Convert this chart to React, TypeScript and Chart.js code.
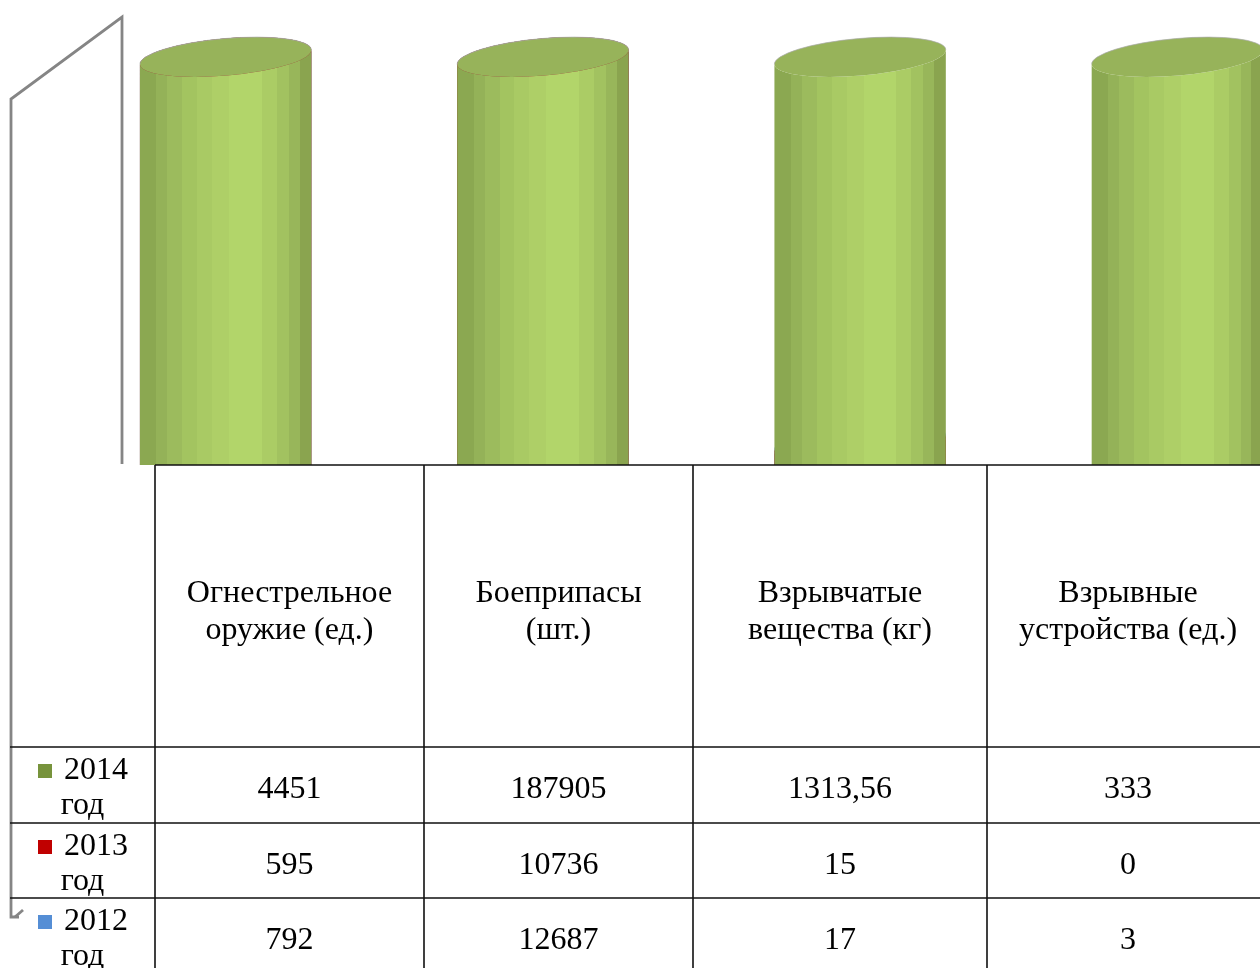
import React, { useEffect, useRef } from "react";
import { Chart, registerables } from "chart.js";

Chart.register(...registerables);

// ---- Data ----
const categories: string[][] = [
  ["Огнестрельное", "оружие (ед.)"],
  ["Боеприпасы", "(шт.)"],
  ["Взрывчатые", "вещества (кг)"],
  ["Взрывные", "устройства (ед.)"],
];
const seriesYears = ["2014", "2013", "2012"];
const seriesSuffix = "год";
const values2014 = [4451, 187905, 1313.56, 333];
const values2013 = [595, 10736, 15, 0];
const values2012 = [792, 12687, 17, 3];
const seriesColors = ["#77933c", "#c00000", "#558ed5"];
const yAxisMax = 300; // axis cap: the front cylinders are cut off at the top of the plot

// ---- Styles ----
const FONT = "32px 'Liberation Serif', 'Times New Roman', serif";
const greenStripes: [number, number, string][] = [
  [0, 0.098, "#8ba851"],
  [0.098, 0.162, "#94b258"],
  [0.162, 0.249, "#9cbb5d"],
  [0.249, 0.335, "#a3c460"],
  [0.335, 0.422, "#a9ca64"],
  [0.422, 0.52, "#aecf67"],
  [0.52, 0.711, "#b2d56a"],
  [0.711, 0.798, "#abcc65"],
  [0.798, 0.867, "#a2c260"],
  [0.867, 0.93, "#98b65a"],
  [0.93, 1, "#8aa44f"],
];
const redStripes: [number, number, string][] = [
  [0, 0.3, "#a00000"],
  [0.3, 0.7, "#d02020"],
  [0.7, 1, "#a00000"],
];
const blueStripes: [number, number, string][] = [
  [0, 0.3, "#4a7dbd"],
  [0.3, 0.7, "#6a9fe0"],
  [0.7, 1, "#4a7dbd"],
];

function drawCylinder(
  ctx: CanvasRenderingContext2D,
  cx: number,
  w: number,
  top: number,
  bottom: number,
  stripes: [number, number, string][],
  topColor: string,
  outline: boolean
) {
  const rx = w / 2;
  const ry = 18.5;
  const rot = -0.087;
  const lx = cx - rx * Math.cos(rot);
  const ly = top - rx * Math.sin(rot);
  const rxp = cx + rx * Math.cos(rot);
  ctx.save();
  const g = ctx.createLinearGradient(cx - rx, 0, cx + rx, 0);
  stripes.forEach(([p0, p1, c]) => {
    g.addColorStop(p0, c);
    g.addColorStop(p1, c);
  });
  ctx.beginPath();
  ctx.moveTo(lx, bottom);
  ctx.lineTo(lx, ly);
  ctx.ellipse(cx, top, rx, ry, rot, Math.PI, 0, true);
  ctx.lineTo(rxp, bottom);
  ctx.closePath();
  ctx.fillStyle = g;
  ctx.fill();
  ctx.beginPath();
  ctx.ellipse(cx, top, rx, ry, rot, 0, Math.PI * 2);
  ctx.fillStyle = topColor;
  ctx.fill();
  if (outline) {
    ctx.strokeStyle = "rgba(170,170,170,0.7)";
    ctx.lineWidth = 1;
    ctx.beginPath();
    ctx.ellipse(cx, top, rx, ry, rot, Math.PI, 0, false);
    ctx.stroke();
  }
  ctx.restore();
}

const wallPlugin = {
  id: "walls",
  beforeDatasetsDraw(chart: any) {
    const ctx: CanvasRenderingContext2D = chart.ctx;
    const area = chart.chartArea;
    ctx.save();
    ctx.strokeStyle = "#858585";
    ctx.lineWidth = 2.8;
    ctx.lineJoin = "miter";
    ctx.beginPath();
    ctx.moveTo(122, area.bottom - 1);
    ctx.lineTo(122, 17);
    ctx.lineTo(11, 99);
    ctx.lineTo(11, 917);
    ctx.lineTo(19, 917);
    ctx.stroke();
    ctx.beginPath();
    ctx.moveTo(15, 917);
    ctx.lineTo(23, 910);
    ctx.stroke();
    ctx.restore();
  },
};

const cylinderPlugin = {
  id: "cylinders",
  afterDatasetsDraw(chart: any) {
    const ctx: CanvasRenderingContext2D = chart.ctx;
    const area = chart.chartArea;
    ctx.save();
    ctx.beginPath();
    ctx.rect(0, 0, chart.width, area.bottom);
    ctx.clip();
    chart.data.datasets.forEach((ds: any, i: number) => {
      const meta = chart.getDatasetMeta(i);
      meta.data.forEach((bar: any) => {
        const { x, y, base, width } = bar.getProps(["x", "y", "base", "width"], true);
        const top = Math.max(y, area.top);
        drawCylinder(ctx, x, width * 0.995, top, base, ds.stripes, ds.topColor, !!ds.outline);
      });
    });
    ctx.restore();
  },
};

const tablePlugin = {
  id: "dataTable",
  afterDraw(chart: any) {
    const ctx: CanvasRenderingContext2D = chart.ctx;
    const area = chart.chartArea;
    const W = chart.width;
    const tTop = area.bottom;
    const colEdges = [155, 424, 693, 987, 1269];
    const rowEdges = [tTop, 747, 823, 898, 973];
    const rowsData = [values2014, values2013, values2012];
    ctx.save();
    ctx.strokeStyle = "#111";
    ctx.lineWidth = 1.6;
    ctx.beginPath();
    ctx.moveTo(colEdges[0], tTop);
    ctx.lineTo(W, tTop);
    for (let r = 1; r < rowEdges.length; r++) {
      ctx.moveTo(10, rowEdges[r]);
      ctx.lineTo(W, rowEdges[r]);
    }
    colEdges.forEach((x) => {
      ctx.moveTo(x, tTop);
      ctx.lineTo(x, chart.height);
    });
    ctx.stroke();

    ctx.fillStyle = "#000";
    ctx.font = FONT;
    ctx.textBaseline = "alphabetic";
    ctx.textAlign = "center";
    // header
    categories.forEach((lines, c) => {
      const cx = (colEdges[c] + colEdges[c + 1]) / 2;
      lines.forEach((ln, k) => {
        ctx.fillText(ln, cx, tTop + 137 + k * 37);
      });
    });
    // rows
    rowsData.forEach((vals, r) => {
      const y0 = rowEdges[r + 1];
      vals.forEach((v, c) => {
        const cx = (colEdges[c] + colEdges[c + 1]) / 2;
        ctx.fillText(String(v).replace(".", ","), cx, y0 + 51);
      });
      // legend cell
      const lc = (10 + colEdges[0]) / 2;
      ctx.textAlign = "left";
      const tw = ctx.measureText(seriesYears[r]).width;
      const total = 14 + 11 + tw;
      const sx = lc - total / 2;
      ctx.fillStyle = seriesColors[r];
      ctx.fillRect(sx, y0 + 17, 14, 14);
      ctx.fillStyle = "#000";
      ctx.fillText(seriesYears[r], sx + 26, y0 + 32);
      ctx.textAlign = "center";
      ctx.fillText(seriesSuffix, lc, y0 + 67);
    });
    ctx.restore();
  },
};

export default function App() {
  const ref = useRef<HTMLCanvasElement | null>(null);
  useEffect(() => {
    if (!ref.current) return;
    const chart = new Chart(ref.current, {
      type: "bar",
      data: {
        labels: categories.map((c) => c.join(" ")),
        datasets: [
          {
            label: seriesYears[2] + " " + seriesSuffix,
            data: values2012,
            backgroundColor: "rgba(0,0,0,0)",
            grouped: false,
            stripes: blueStripes,
            topColor: "#5a8fd0",
            outline: false,
          } as any,
          {
            label: seriesYears[1] + " " + seriesSuffix,
            data: values2013,
            backgroundColor: "rgba(0,0,0,0)",
            grouped: false,
            stripes: redStripes,
            topColor: "#b01010",
            outline: false,
          } as any,
          {
            label: seriesYears[0] + " " + seriesSuffix,
            data: values2014,
            backgroundColor: "rgba(0,0,0,0)",
            grouped: false,
            stripes: greenStripes,
            topColor: "#97b35a",
            outline: true,
          } as any,
        ],
      },
      options: {
        animation: false,
        responsive: false,
        devicePixelRatio: 1,
        layout: { padding: { left: 67, right: 4, top: 57, bottom: 503 } },
        datasets: { bar: { barPercentage: 0.545, categoryPercentage: 1 } },
        scales: {
          x: { display: false, offset: true },
          y: { display: false, min: 0, max: yAxisMax },
        },
        plugins: { legend: { display: false }, tooltip: { enabled: false } },
      },
      plugins: [wallPlugin, cylinderPlugin, tablePlugin],
    });
    return () => chart.destroy();
  }, []);
  return (
    <div
      style={{
        position: "fixed",
        left: 0,
        top: 0,
        width: 1260,
        height: 968,
        overflow: "hidden",
        background: "#fff",
      }}
    >
      <canvas ref={ref} width={1340} height={968} style={{ width: 1340, height: 968 }} />
    </div>
  );
}
